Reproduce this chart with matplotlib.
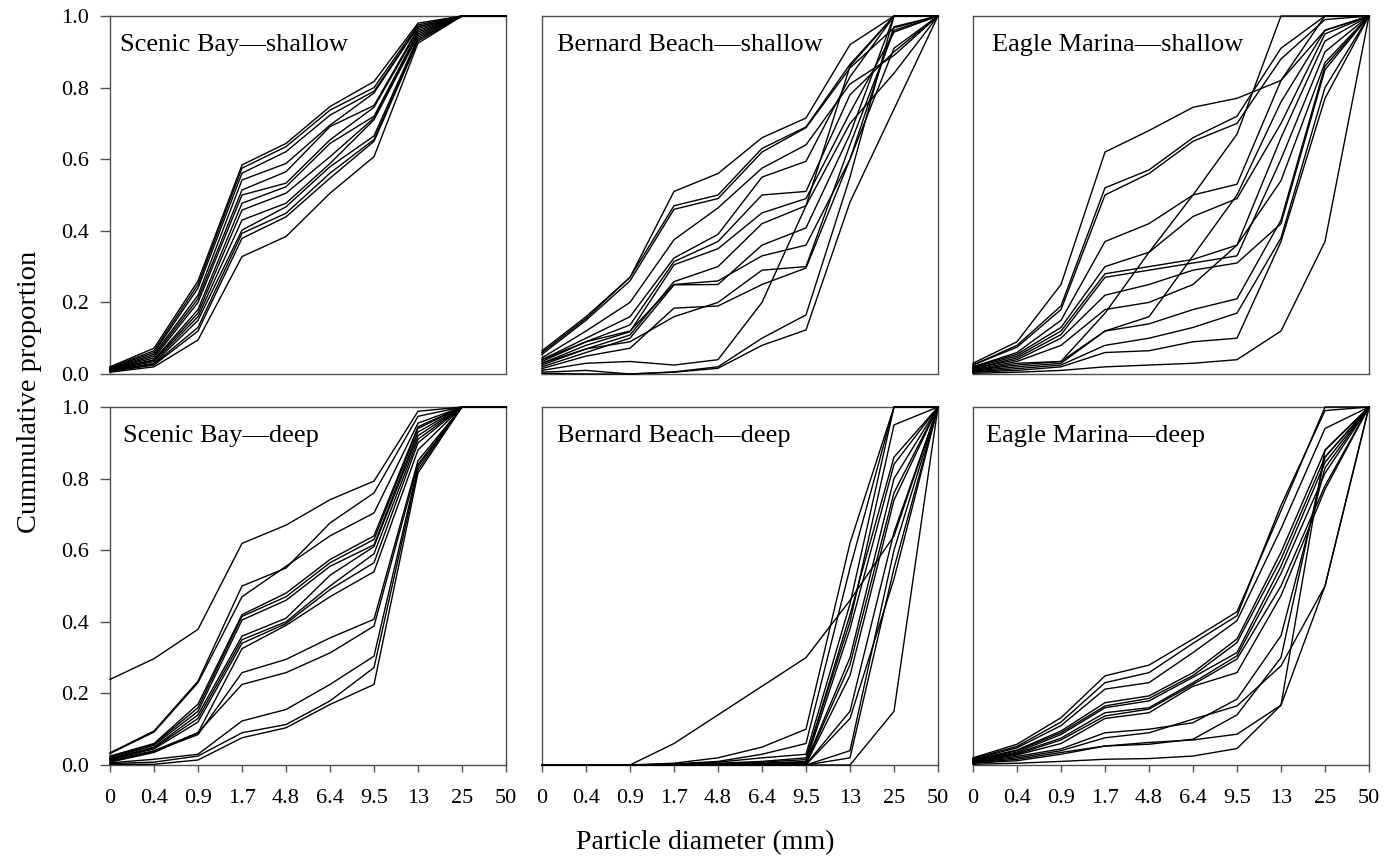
import matplotlib
matplotlib.use("Agg")
import matplotlib.pyplot as plt

plt.rcParams['font.family'] = ['Liberation Serif', 'DejaVu Serif']

sizes = ["0", "0.4", "0.9", "1.7", "4.8", "6.4", "9.5", "13", "25", "50"]
y_ticks = [0.0, 0.2, 0.4, 0.6, 0.8, 1.0]

titles = ["Scenic Bay\u2014shallow", "Bernard Beach\u2014shallow", "Eagle Marina\u2014shallow",
          "Scenic Bay\u2014deep", "Bernard Beach\u2014deep", "Eagle Marina\u2014deep"]

scenic_shallow = [
    [0.020, 0.072, 0.260, 0.584, 0.644, 0.747, 0.817, 0.980, 1.0, 1.0],
    [0.018, 0.065, 0.250, 0.575, 0.635, 0.737, 0.800, 0.975, 1.0, 1.0],
    [0.017, 0.060, 0.240, 0.561, 0.621, 0.723, 0.790, 0.970, 1.0, 1.0],
    [0.015, 0.055, 0.220, 0.542, 0.588, 0.695, 0.785, 0.970, 1.0, 1.0],
    [0.014, 0.050, 0.210, 0.514, 0.565, 0.691, 0.750, 0.965, 1.0, 1.0],
    [0.013, 0.045, 0.200, 0.500, 0.533, 0.654, 0.745, 0.960, 1.0, 1.0],
    [0.012, 0.040, 0.180, 0.477, 0.523, 0.644, 0.720, 0.955, 1.0, 1.0],
    [0.011, 0.038, 0.170, 0.458, 0.505, 0.607, 0.715, 0.950, 1.0, 1.0],
    [0.010, 0.035, 0.160, 0.430, 0.477, 0.588, 0.710, 0.945, 1.0, 1.0],
    [0.009, 0.030, 0.150, 0.402, 0.467, 0.579, 0.665, 0.940, 1.0, 1.0],
    [0.008, 0.028, 0.130, 0.393, 0.449, 0.561, 0.655, 0.935, 1.0, 1.0],
    [0.007, 0.025, 0.120, 0.379, 0.439, 0.547, 0.650, 0.930, 1.0, 1.0],
    [0.005, 0.020, 0.095, 0.328, 0.384, 0.505, 0.607, 0.924, 1.0, 1.0],
]

bernard_shallow = [
    [0.065, 0.160, 0.270, 0.510, 0.560, 0.660, 0.715, 0.920, 1.000, 1.0],
    [0.060, 0.155, 0.270, 0.470, 0.500, 0.630, 0.690, 0.865, 1.000, 1.0],
    [0.055, 0.150, 0.260, 0.460, 0.490, 0.620, 0.688, 0.855, 0.967, 1.0],
    [0.045, 0.120, 0.200, 0.375, 0.464, 0.575, 0.640, 0.810, 0.890, 1.0],
    [0.040, 0.100, 0.160, 0.324, 0.390, 0.550, 0.594, 0.830, 1.000, 1.0],
    [0.035, 0.090, 0.137, 0.314, 0.370, 0.500, 0.510, 0.780, 0.900, 1.0],
    [0.030, 0.080, 0.118, 0.305, 0.350, 0.450, 0.490, 0.730, 0.955, 1.0],
    [0.025, 0.070, 0.109, 0.258, 0.300, 0.420, 0.470, 0.700, 0.840, 1.0],
    [0.020, 0.060, 0.100, 0.249, 0.250, 0.360, 0.408, 0.670, 1.000, 1.0],
    [0.040, 0.090, 0.120, 0.250, 0.260, 0.330, 0.360, 0.600, 0.970, 1.0],
    [0.015, 0.050, 0.072, 0.184, 0.190, 0.250, 0.296, 0.600, 0.910, 1.0],
    [0.030, 0.070, 0.090, 0.160, 0.200, 0.290, 0.300, 0.640, 0.960, 1.0],
    [0.010, 0.030, 0.035, 0.025, 0.040, 0.200, 0.470, 0.860, 1.000, 1.0],
    [0.005, 0.010, 0.000, 0.005, 0.016, 0.080, 0.123, 0.480, 0.740, 1.0],
    [0.002, 0.000, 0.000, 0.006, 0.020, 0.100, 0.165, 0.550, 1.000, 1.0],
]

eagle_shallow = [
    [0.030, 0.090, 0.250, 0.620, 0.680, 0.745, 0.770, 0.820, 1.000, 1.0],
    [0.025, 0.080, 0.190, 0.520, 0.570, 0.660, 0.720, 0.910, 1.000, 1.0],
    [0.025, 0.075, 0.180, 0.500, 0.560, 0.650, 0.700, 0.880, 0.990, 1.0],
    [0.020, 0.060, 0.150, 0.370, 0.420, 0.500, 0.530, 0.820, 0.960, 1.0],
    [0.020, 0.055, 0.130, 0.300, 0.340, 0.440, 0.490, 0.700, 0.950, 1.0],
    [0.018, 0.050, 0.120, 0.280, 0.300, 0.320, 0.360, 0.660, 0.930, 1.0],
    [0.015, 0.045, 0.110, 0.270, 0.290, 0.310, 0.330, 0.600, 0.900, 1.0],
    [0.015, 0.040, 0.100, 0.220, 0.250, 0.290, 0.310, 0.420, 0.850, 1.0],
    [0.012, 0.035, 0.080, 0.180, 0.200, 0.250, 0.360, 0.540, 0.870, 1.0],
    [0.010, 0.030, 0.035, 0.170, 0.340, 0.500, 0.670, 1.000, 1.000, 1.0],
    [0.010, 0.025, 0.035, 0.120, 0.160, 0.330, 0.500, 0.760, 0.960, 1.0],
    [0.008, 0.020, 0.030, 0.120, 0.140, 0.180, 0.210, 0.430, 0.860, 1.0],
    [0.006, 0.015, 0.025, 0.080, 0.100, 0.130, 0.170, 0.380, 0.800, 1.0],
    [0.005, 0.010, 0.020, 0.060, 0.065, 0.090, 0.100, 0.370, 0.770, 1.0],
    [0.002, 0.005, 0.010, 0.020, 0.025, 0.030, 0.040, 0.120, 0.370, 1.0],
]

scenic_deep = [
    [0.239, 0.297, 0.379, 0.619, 0.670, 0.741, 0.793, 0.988, 1.0, 1.0],
    [0.034, 0.095, 0.234, 0.500, 0.550, 0.676, 0.760, 0.974, 1.0, 1.0],
    [0.032, 0.092, 0.230, 0.470, 0.555, 0.640, 0.704, 0.955, 1.0, 1.0],
    [0.025, 0.060, 0.170, 0.420, 0.480, 0.574, 0.640, 0.945, 1.0, 1.0],
    [0.022, 0.058, 0.160, 0.415, 0.470, 0.565, 0.630, 0.940, 1.0, 1.0],
    [0.020, 0.055, 0.150, 0.405, 0.460, 0.555, 0.615, 0.930, 1.0, 1.0],
    [0.018, 0.050, 0.140, 0.360, 0.410, 0.530, 0.610, 0.920, 1.0, 1.0],
    [0.015, 0.048, 0.130, 0.350, 0.400, 0.500, 0.590, 0.910, 1.0, 1.0],
    [0.014, 0.045, 0.120, 0.340, 0.395, 0.490, 0.565, 0.900, 1.0, 1.0],
    [0.012, 0.040, 0.090, 0.325, 0.390, 0.470, 0.540, 0.880, 1.0, 1.0],
    [0.010, 0.038, 0.085, 0.258, 0.295, 0.355, 0.407, 0.850, 1.0, 1.0],
    [0.008, 0.035, 0.090, 0.225, 0.258, 0.313, 0.388, 0.840, 1.0, 1.0],
    [0.006, 0.016, 0.030, 0.123, 0.155, 0.225, 0.304, 0.834, 1.0, 1.0],
    [0.004, 0.008, 0.025, 0.090, 0.113, 0.179, 0.272, 0.825, 1.0, 1.0],
    [0.002, 0.002, 0.014, 0.076, 0.104, 0.169, 0.225, 0.816, 1.0, 1.0],
]

bernard_deep = [
    [0.0, 0.0, 0.0, 0.060, 0.140, 0.220, 0.300, 0.460, 0.640, 1.0],
    [0.0, 0.0, 0.0, 0.005, 0.020, 0.050, 0.100, 0.620, 1.000, 1.0],
    [0.0, 0.0, 0.0, 0.003, 0.010, 0.030, 0.060, 0.550, 1.000, 1.0],
    [0.0, 0.0, 0.0, 0.002, 0.008, 0.020, 0.030, 0.450, 1.000, 1.0],
    [0.0, 0.0, 0.0, 0.001, 0.005, 0.010, 0.020, 0.400, 0.950, 1.0],
    [0.0, 0.0, 0.0, 0.000, 0.003, 0.008, 0.015, 0.420, 0.860, 1.0],
    [0.0, 0.0, 0.0, 0.000, 0.002, 0.005, 0.010, 0.380, 0.840, 1.0],
    [0.0, 0.0, 0.0, 0.000, 0.001, 0.003, 0.008, 0.300, 0.800, 1.0],
    [0.0, 0.0, 0.0, 0.000, 0.000, 0.002, 0.005, 0.280, 0.760, 1.0],
    [0.0, 0.0, 0.0, 0.000, 0.000, 0.001, 0.003, 0.250, 0.740, 1.0],
    [0.0, 0.0, 0.0, 0.000, 0.000, 0.000, 0.002, 0.150, 0.650, 1.0],
    [0.0, 0.0, 0.0, 0.000, 0.000, 0.000, 0.001, 0.130, 0.520, 1.0],
    [0.0, 0.0, 0.0, 0.000, 0.000, 0.000, 0.000, 0.040, 0.600, 1.0],
    [0.0, 0.0, 0.0, 0.000, 0.000, 0.000, 0.000, 0.020, 0.550, 1.0],
    [0.0, 0.0, 0.0, 0.000, 0.000, 0.000, 0.000, 0.000, 0.150, 1.0],
]

eagle_deep = [
    [0.020, 0.058, 0.132, 0.249, 0.279, 0.352, 0.428, 0.710, 1.000, 1.0],
    [0.018, 0.052, 0.120, 0.230, 0.258, 0.340, 0.417, 0.725, 0.990, 1.0],
    [0.016, 0.048, 0.110, 0.212, 0.230, 0.314, 0.403, 0.660, 0.940, 1.0],
    [0.014, 0.042, 0.095, 0.174, 0.193, 0.258, 0.352, 0.594, 0.879, 1.0],
    [0.013, 0.040, 0.090, 0.165, 0.186, 0.250, 0.342, 0.575, 0.860, 1.0],
    [0.012, 0.036, 0.085, 0.160, 0.179, 0.245, 0.314, 0.555, 0.845, 1.0],
    [0.011, 0.033, 0.075, 0.146, 0.160, 0.230, 0.305, 0.535, 0.815, 1.0],
    [0.010, 0.030, 0.070, 0.137, 0.156, 0.225, 0.296, 0.500, 0.780, 1.0],
    [0.009, 0.028, 0.060, 0.130, 0.146, 0.220, 0.258, 0.473, 0.770, 1.0],
    [0.008, 0.024, 0.045, 0.090, 0.100, 0.118, 0.184, 0.361, 0.830, 1.0],
    [0.007, 0.020, 0.040, 0.076, 0.090, 0.128, 0.165, 0.277, 0.500, 1.0],
    [0.006, 0.016, 0.035, 0.053, 0.058, 0.072, 0.140, 0.300, 0.860, 1.0],
    [0.005, 0.012, 0.030, 0.053, 0.063, 0.070, 0.086, 0.167, 0.880, 1.0],
    [0.002, 0.005, 0.010, 0.016, 0.018, 0.025, 0.046, 0.167, 0.500, 1.0],
]

panels = [scenic_shallow, bernard_shallow, eagle_shallow,
          scenic_deep, bernard_deep, eagle_deep]

W, H = 1393, 858
fig = plt.figure(figsize=(W / 100, H / 100), dpi=100)

col_left = [110, 542, 973]
row_top = [16, 407]
aw, ah = 396, 358
title_dx = [10, 15, 19, 13, 15, 13]
spine_col = '#505050'

xs = list(range(len(sizes)))
for idx, data in enumerate(panels):
    r, c = divmod(idx, 3)
    left = col_left[c] / W
    bottom = 1 - (row_top[r] + ah) / H
    ax = fig.add_axes([left, bottom, aw / W, ah / H])
    for series in data:
        ax.plot(xs, series, color='black', lw=1.0, clip_on=False, zorder=3)
    ax.set_xlim(0, len(sizes) - 1)
    ax.set_ylim(0, 1.0)
    for s in ax.spines.values():
        s.set_color(spine_col)
        s.set_linewidth(1.0)
    if r == 1:
        ax.set_xticks(xs)
        ax.set_xticklabels(sizes, fontsize=16)
        ax.tick_params(axis='x', direction='out', length=5, width=1.0,
                       color=spine_col, pad=12)
    else:
        ax.set_xticks([])
    if c == 0:
        ax.set_yticks(y_ticks)
        ax.set_yticklabels([f"{v:.1f}" for v in y_ticks], fontsize=16)
        ax.tick_params(axis='y', direction='out', length=7.2, width=1.0,
                       color=spine_col, pad=8)
    else:
        ax.set_yticks([])
    ax.text(title_dx[idx] / aw, 1 - 35 / ah, titles[idx], transform=ax.transAxes,
            fontsize=19, ha='left', va='baseline', zorder=5)

fig.text(705 / W, 1 - 843 / H, "Particle diameter (mm)", fontsize=20,
         ha='center', va='center')
fig.text(30 / W, 1 - 392 / H, "Cummulative proportion", fontsize=20.5,
         ha='center', va='center', rotation=90)

fig.savefig("out.png", dpi=100)
